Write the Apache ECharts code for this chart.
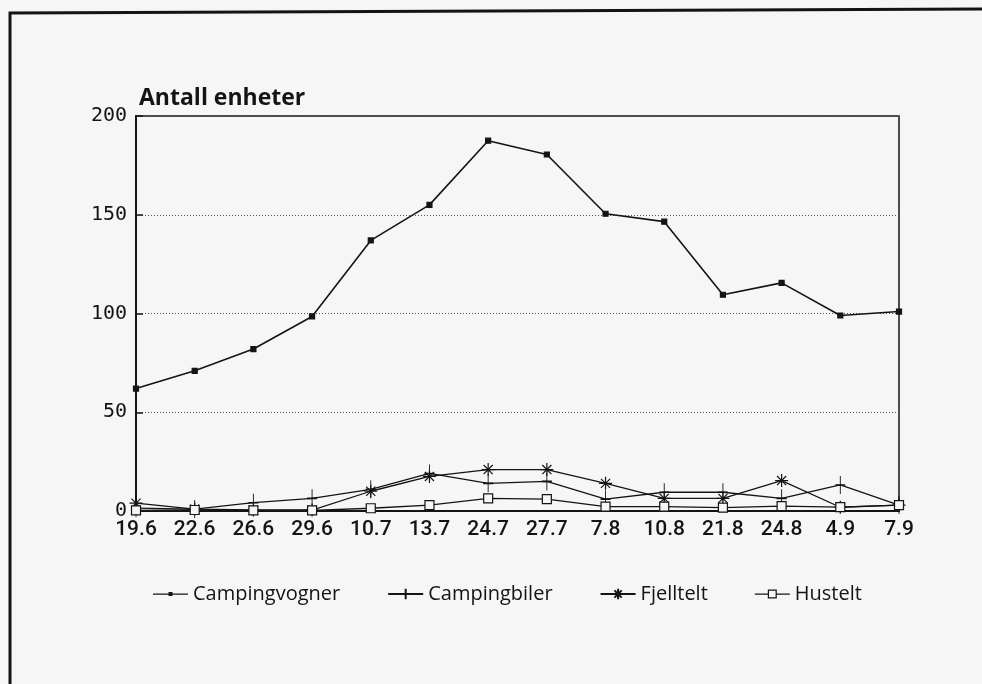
<!DOCTYPE html>
<html>
<head>
<meta charset="utf-8">
<script src="https://cdn.jsdelivr.net/npm/echarts@6/dist/echarts.min.js"></script>
<style>
html,body{margin:0;padding:0;background:#f6f6f6;}
#chart{width:982px;height:684px;}
</style>
</head>
<body>
<div id="chart"></div>
<script>
const categories = ['19.6','22.6','26.6','29.6','10.7','13.7','24.7','27.7','7.8','10.8','21.8','24.8','4.9','7.9'];
const campingvogner = [62, 71, 82, 98.5, 137, 155, 187.5, 180.5, 150.5, 146.5, 109.5, 115.5, 99, 101];
const campingbiler = [1.5, 1, 4.2, 6.4, 11, 19, 14, 15, 6, 9.5, 9.5, 6.4, 13.2, 3];
const fjelltelt = [4, 1, 0.5, 0.5, 10, 17.5, 21, 21, 14, 6.4, 6.4, 15.4, 1.9, 3];
const hustelt = [0.3, 0.5, 0.3, 0.3, 1.4, 3, 6.4, 6, 2.2, 2.2, 1.7, 2.5, 2, 3];
const yTicks = [0, 50, 100, 150, 200];
const seriesNames = ['Campingvogner', 'Campingbiler', 'Fjelltelt', 'Hustelt'];

const ink = '#141414';
const bg = '#f6f6f6';
const plusPath = 'path://M0,9L10,9M5,0L5,18';
const starPath = 'path://M0,5L10,5M5,0L5,10M1.5,1.5L8.5,8.5M8.5,1.5L1.5,8.5';
const legendDotIcon = 'path://M0,0M35,13M0,5.9h35v1.4h-35zM15.5,4.6h4v4h-4z';
const legendBoxIcon = 'path://M0,0M35,13M0,6h13v1.3h-13zM22,6h13v1.3h-13zM13,2h9v9h-9zM14.2,3.2v6.6h6.6v-6.6z';

function lineSeries(name, data, symbol, size, width, extraItem) {
  return {
    name: name,
    type: 'line',
    data: data,
    symbol: symbol,
    symbolSize: size,
    showAllSymbol: true,
    lineStyle: {color: ink, width: width},
    itemStyle: Object.assign({color: ink, borderColor: ink, borderWidth: 1.2}, extraItem || {}),
    emphasis: {disabled: true},
    z: 3
  };
}

const chart = echarts.init(document.getElementById('chart'), null, {renderer: 'canvas'});
chart.setOption({
  backgroundColor: bg,
  animation: false,
  title: {
    text: 'Antall enheter',
    left: 134, top: 82,
    textStyle: {fontFamily: 'Open Sans', fontWeight: 'bold', fontSize: 23, color: ink}
  },
  legend: {
    data: [
      {name: seriesNames[0], icon: legendDotIcon, itemStyle: {color: ink, borderWidth: 0}},
      {name: seriesNames[1]},
      {name: seriesNames[2]},
      {name: seriesNames[3], icon: legendBoxIcon, itemStyle: {color: ink, borderWidth: 0}}
    ],
    left: 148, top: 579,
    itemWidth: 35, itemHeight: 13, itemGap: 47,
    textStyle: {fontFamily: 'Open Sans', fontSize: 20, color: ink},
    inactiveColor: ink
  },
  grid: {
    left: 136, right: 83, top: 116, bottom: 173,
    show: true, borderColor: ink, borderWidth: 1.5, backgroundColor: 'transparent'
  },
  xAxis: {
    type: 'category',
    data: categories,
    boundaryGap: false,
    axisLine: {lineStyle: {color: ink, width: 2}},
    axisTick: {show: false},
    axisLabel: {fontFamily: 'Roboto', fontWeight: 500, fontSize: 21, color: ink, margin: 8, interval: 0}
  },
  yAxis: {
    type: 'value',
    min: yTicks[0], max: yTicks[yTicks.length - 1], interval: 50,
    axisLine: {show: true, lineStyle: {color: ink, width: 2}},
    axisTick: {show: true, inside: true, length: 7, lineStyle: {color: ink, width: 1.5}},
    axisLabel: {fontFamily: 'DejaVu Sans Mono', fontSize: 20, color: ink, margin: 9},
    splitLine: {show: true, lineStyle: {color: '#555', width: 1, type: [1, 2]}}
  },
  graphic: [{
    type: 'polyline',
    shape: {points: [[10, 684], [10, 13], [982, 9]]},
    style: {stroke: ink, lineWidth: 3, fill: null},
    silent: true
  }],
  series: [
    lineSeries(seriesNames[0], campingvogner, 'rect', 5, 1.6),
    lineSeries(seriesNames[1], campingbiler, plusPath, [10, 18], 1.3),
    lineSeries(seriesNames[2], fjelltelt, starPath, 13, 1.3),
    lineSeries(seriesNames[3], hustelt, 'rect', 9, 1.3, {color: bg})
  ]
});
</script>
</body>
</html>
